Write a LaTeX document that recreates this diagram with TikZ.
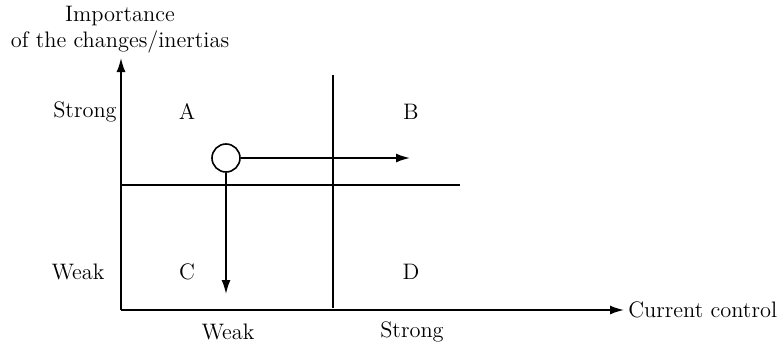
\documentclass[tikz,border=0pt]{standalone}
\usetikzlibrary{arrows.meta}
\begin{document}
\begin{tikzpicture}[x=0.5pt,y=-0.5pt,
  lbl/.style={inner sep=0pt,font=\fontsize{11.2}{13}\selectfont},
  ln/.style={line width=0.8pt},
  arr/.style={ln,-{Latex[length=7pt,width=4.5pt]}}]
\useasboundingbox (0,0) rectangle (784,348);
% axes
\coordinate (O) at (121,310);
\coordinate (Ytip) at (121,58);
\coordinate (Xtip) at (624,310);
\draw[arr] (O) -- (Ytip);
\draw[arr] (O) -- (Xtip);
% dividers
\coordinate (V1) at (333,75);
\coordinate (V2) at (333,308);
\coordinate (H1) at (121,185);
\coordinate (H2) at (460,185);
\draw[ln] (V1) -- (V2);
\draw[ln] (H1) -- (H2);
% circle and arrows
\node[draw,circle,ln,minimum size=14pt,inner sep=0pt] (c) at (226,158) {};
\coordinate (rt) at (410,158);
\coordinate (dn) at (226,294);
\draw[arr] (c.east) -- (rt);
\draw[arr] (c.south) -- (dn);
% labels
\node[lbl,align=center] (ytitle) at (120,30) {Importance\\[0pt]of the changes/inertias};
\node[lbl,anchor=west] (xtitle) at (628,310) {Current control};
\node[lbl] (ys) at (85,112) {Strong};
\node[lbl] (yw) at (78,272) {Weak};
\node[lbl] (xw) at (228,332) {Weak};
\node[lbl] (xs) at (412,332) {Strong};
\node[lbl] (A) at (187,112) {A};
\node[lbl] (B) at (411,112) {B};
\node[lbl] (C) at (187,272) {C};
\node[lbl] (D) at (411,272) {D};
\end{tikzpicture}
\end{document}
